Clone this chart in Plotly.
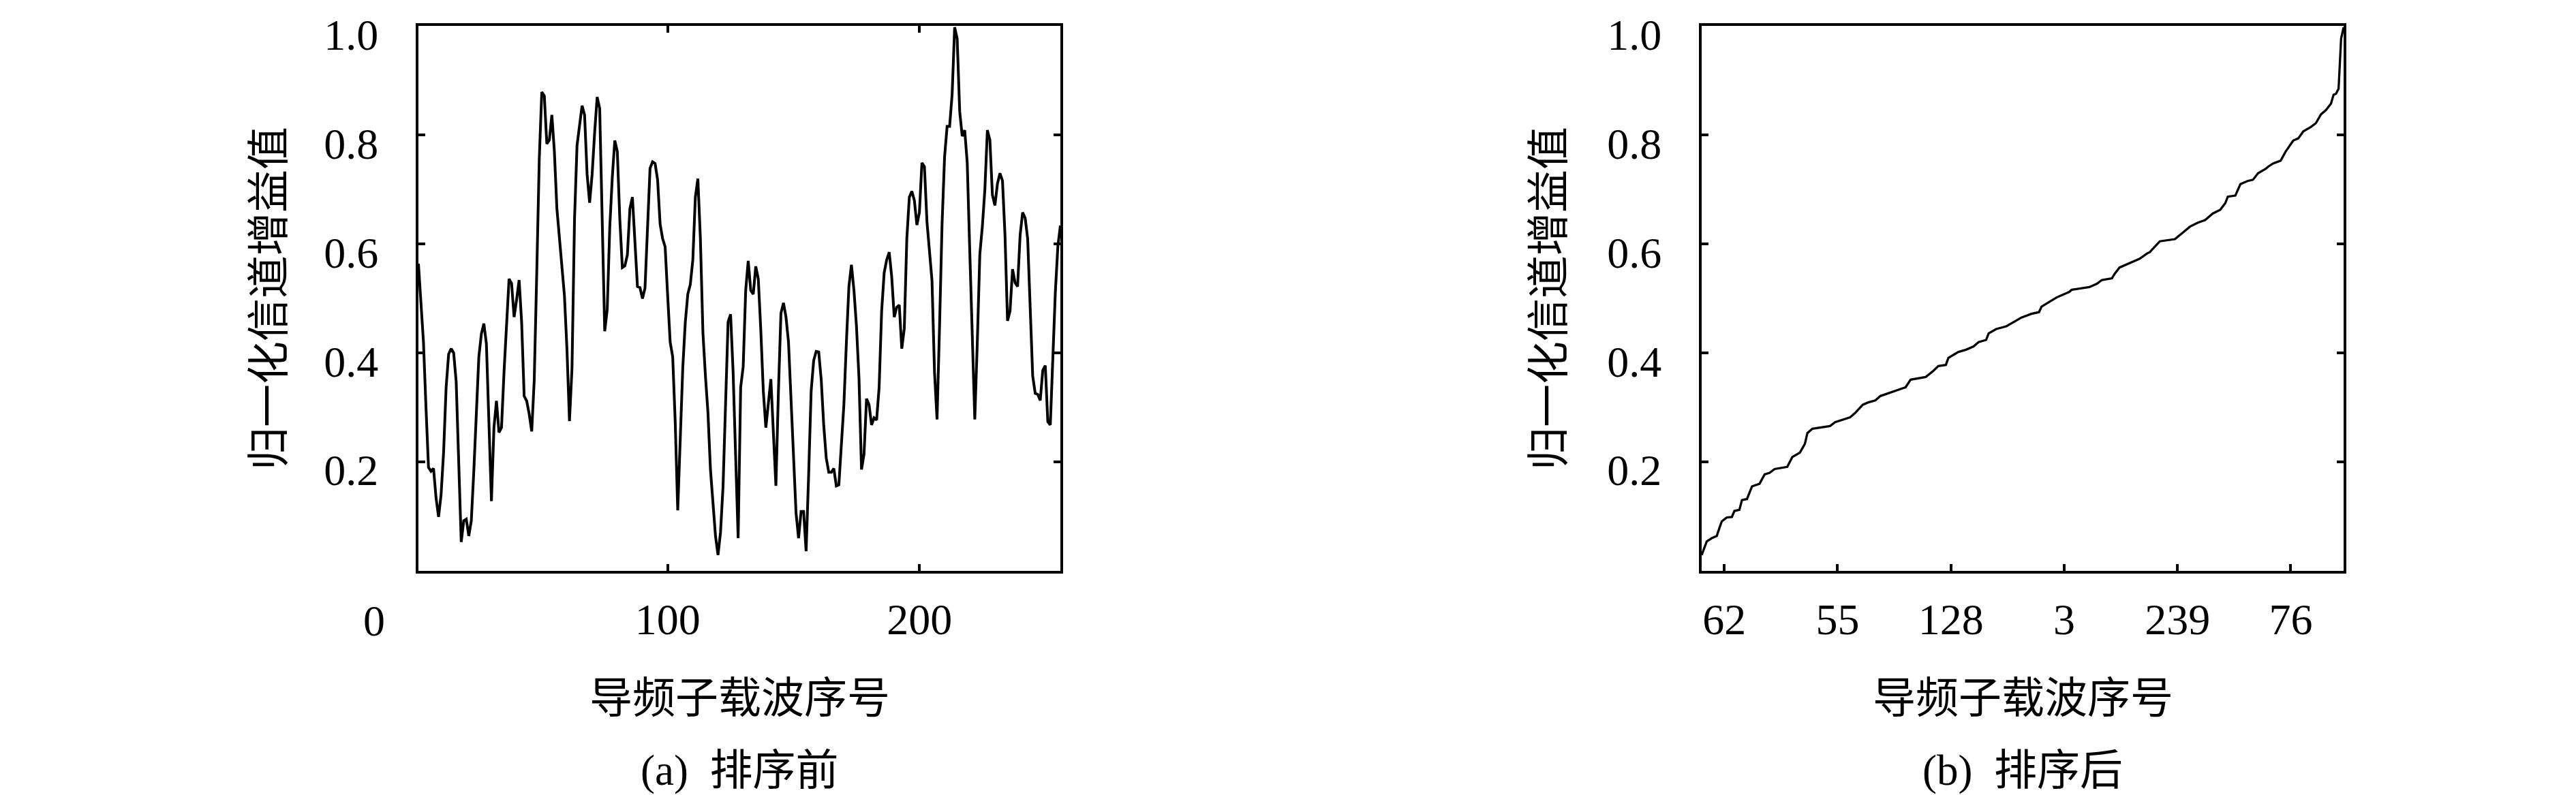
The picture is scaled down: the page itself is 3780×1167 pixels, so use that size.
import plotly.graph_objects as go

# ---------------- data ----------------
pilot_idx = list(range(1, 257))
gain_before = [
    0.564, 0.49, 0.42, 0.30, 0.19, 0.183, 0.188, 0.134, 0.099, 0.14,
    0.218, 0.337, 0.398, 0.408, 0.40, 0.347, 0.197, 0.053, 0.092, 0.095,
    0.064, 0.092, 0.183, 0.30, 0.393, 0.435, 0.454, 0.417, 0.267, 0.128,
    0.263, 0.312, 0.254, 0.263, 0.365, 0.449, 0.536, 0.528, 0.466, 0.498,
    0.534, 0.456, 0.321, 0.312, 0.288, 0.256, 0.35, 0.547, 0.756, 0.879,
    0.872, 0.784, 0.791, 0.837, 0.77, 0.665, 0.61, 0.56, 0.505, 0.407,
    0.275, 0.372, 0.645, 0.781, 0.816, 0.854, 0.837, 0.728, 0.676, 0.728,
    0.805, 0.87, 0.849, 0.665, 0.44, 0.48, 0.63, 0.722, 0.79, 0.77,
    0.645, 0.557, 0.56, 0.58, 0.665, 0.686, 0.61, 0.522, 0.52, 0.50,
    0.519, 0.645, 0.739, 0.751, 0.748, 0.718, 0.637, 0.61, 0.595, 0.505,
    0.42, 0.393, 0.274, 0.111, 0.246, 0.372, 0.456, 0.508, 0.526, 0.571,
    0.686, 0.72, 0.61, 0.438, 0.358, 0.291, 0.186, 0.12, 0.064, 0.029,
    0.071, 0.155, 0.316, 0.457, 0.471, 0.365, 0.211, 0.06, 0.337, 0.375,
    0.515, 0.569, 0.515, 0.508, 0.559, 0.536, 0.442, 0.33, 0.263, 0.305,
    0.352, 0.253, 0.156, 0.33, 0.473, 0.492, 0.466, 0.42, 0.316, 0.19,
    0.106, 0.06, 0.109, 0.109, 0.036, 0.176, 0.33, 0.386, 0.403, 0.402,
    0.351, 0.267, 0.207, 0.181, 0.181, 0.188, 0.156, 0.158, 0.232, 0.305,
    0.42, 0.522, 0.562, 0.515, 0.449, 0.354, 0.186, 0.214, 0.316, 0.305,
    0.268, 0.281, 0.277, 0.337, 0.477, 0.547, 0.571, 0.585, 0.54, 0.466,
    0.484, 0.488, 0.408, 0.445, 0.61, 0.686, 0.697, 0.68, 0.635, 0.658,
    0.749, 0.742, 0.641, 0.588, 0.533, 0.365, 0.278, 0.449, 0.637, 0.76,
    0.816, 0.816, 0.875, 0.998, 0.977, 0.844, 0.798, 0.809, 0.749, 0.588,
    0.42, 0.278, 0.42, 0.581, 0.632, 0.70, 0.809, 0.791, 0.69, 0.671,
    0.711, 0.73, 0.716, 0.616, 0.459, 0.477, 0.554, 0.529, 0.522, 0.616,
    0.658, 0.648, 0.61, 0.477, 0.358, 0.326, 0.324, 0.313, 0.368, 0.377,
    0.274, 0.268, 0.407, 0.512, 0.596, 0.634,
]

sorted_pos = [
    1, 3, 5, 7, 8, 9, 11, 13, 14, 16, 17, 19, 21, 24, 26, 28, 30, 35, 37, 40,
    42, 43, 45, 48, 52, 54, 57, 60, 62, 65, 67, 70, 72, 75, 79, 82, 84, 87, 90, 93,
    95, 98, 99, 103, 106, 109, 111, 114, 115, 118, 122, 125, 128, 132, 135, 136, 139, 142, 145, 147,
    148, 151, 155, 158, 160, 164, 165, 167, 169, 172, 175, 178, 179, 181, 183, 189, 191, 195, 198, 201,
    204, 207, 209, 210, 213, 215, 218, 220, 222, 225, 226, 228, 231, 233, 236, 238, 240, 243, 245, 247,
    249, 251, 252, 253, 254, 255, 256,
]
gain_sorted = [
    0.029, 0.054, 0.060, 0.064, 0.078, 0.091, 0.098, 0.099, 0.110, 0.112,
    0.130, 0.132, 0.155, 0.160, 0.177, 0.180, 0.187, 0.191, 0.209, 0.217,
    0.233, 0.253, 0.261, 0.263, 0.266, 0.273, 0.277, 0.282, 0.290, 0.305,
    0.309, 0.313, 0.321, 0.326, 0.333, 0.337, 0.351, 0.354, 0.356, 0.367,
    0.376, 0.378, 0.391, 0.402, 0.406, 0.412, 0.420, 0.424, 0.436, 0.444,
    0.449, 0.457, 0.465, 0.472, 0.475, 0.485, 0.494, 0.502, 0.508, 0.512,
    0.516, 0.518, 0.521, 0.527, 0.534, 0.537, 0.545, 0.557, 0.561, 0.567,
    0.573, 0.583, 0.585, 0.595, 0.605, 0.609, 0.617, 0.632, 0.639, 0.644,
    0.656, 0.663, 0.675, 0.687, 0.689, 0.710, 0.716, 0.718, 0.730, 0.738,
    0.742, 0.748, 0.753, 0.770, 0.790, 0.794, 0.807, 0.815, 0.822, 0.838,
    0.846, 0.858, 0.874, 0.876, 0.885, 0.977, 0.998,
]

left_xticks = [100, 200]
right_xtick_pos = [10, 55, 100, 145, 190, 235]
right_xtick_text = ["62", "55", "128", "3", "239", "76"]
y_ticks = [0.2, 0.4, 0.6, 0.8, 1.0]
y_ticktext = ["0.2", "0.4", "0.6", "0.8", "1.0"]

# ---------------- layout geometry ----------------
W, H = 3780, 1167
px = lambda v: v / W
py = lambda v: 1 - v / H

NUM_FONT = dict(family="Liberation Serif", size=64, color="black")
CJK_FONT = dict(family="Noto Sans CJK SC", size=63, color="black")
CAP_FONT = dict(family="Liberation Serif, Noto Sans CJK SC", size=63, color="black")

fig = go.Figure()
fig.add_trace(go.Scatter(x=pilot_idx, y=gain_before, mode="lines",
                         line=dict(color="black", width=4),
                         xaxis="x", yaxis="y", hoverinfo="skip"))
fig.add_trace(go.Scatter(x=sorted_pos, y=gain_sorted, mode="lines",
                         line=dict(color="black", width=3.3),
                         xaxis="x2", yaxis="y2", hoverinfo="skip"))

common_axis = dict(showgrid=False, zeroline=False, showline=True,
                   linecolor="black", linewidth=4, ticks="inside",
                   ticklen=10, tickwidth=3.5, tickcolor="black",
                   tickfont=NUM_FONT, ticklabeloverflow="allow",
                   automargin=False)

ydom = [py(830), py(30)]
fig.update_layout(
    width=W, height=H,
    margin=dict(l=0, r=0, t=0, b=0, autoexpand=False),
    paper_bgcolor="white", plot_bgcolor="white",
    showlegend=False,
    xaxis=dict(domain=[px(606), px(1548)], range=[1, 256], anchor="y",
               tickvals=left_xticks, mirror="ticks", ticklabelstandoff=12,
               **common_axis),
    yaxis=dict(domain=ydom, range=[0, 1.0005], anchor="x",
               tickvals=y_ticks, ticktext=y_ticktext, mirror="ticks",
               ticklabelstandoff=42, ticklabelshift=12, **common_axis),
    xaxis2=dict(domain=[px(2489), px(3431)], range=[1, 256], anchor="y2",
                tickvals=right_xtick_pos, ticktext=right_xtick_text,
                mirror=True, ticklabelstandoff=12, **common_axis),
    yaxis2=dict(domain=ydom, range=[0, 1.0005], anchor="x2",
                tickvals=y_ticks, ticktext=y_ticktext, mirror="ticks",
                ticklabelstandoff=42, ticklabelshift=12, **common_axis),
)

ann = []
# stray "0" tick label on the left panel
ann.append(dict(text="0", x=px(541), y=py(903), xref="paper", yref="paper",
                showarrow=False, xanchor="center", yanchor="middle", font=NUM_FONT))
for cx, cap in [((606 + 1548) / 2, "(a)  排序前"), ((2489 + 3431) / 2, "(b)  排序后")]:
    ann.append(dict(text="导频子载波序号", x=px(cx), y=py(1010), xref="paper", yref="paper",
                    showarrow=False, xanchor="center", yanchor="middle", font=CJK_FONT))
    ann.append(dict(text=cap, x=px(cx), y=py(1123), xref="paper", yref="paper",
                    showarrow=False, xanchor="center", yanchor="middle", font=CAP_FONT))
for cx in [380, 2258]:
    ann.append(dict(text="归一化信道增益值", x=px(cx), y=py(430), xref="paper", yref="paper",
                    showarrow=False, xanchor="center", yanchor="middle", textangle=-90,
                    font=CJK_FONT))
fig.update_layout(annotations=ann)

fig.write_html("out.html")
